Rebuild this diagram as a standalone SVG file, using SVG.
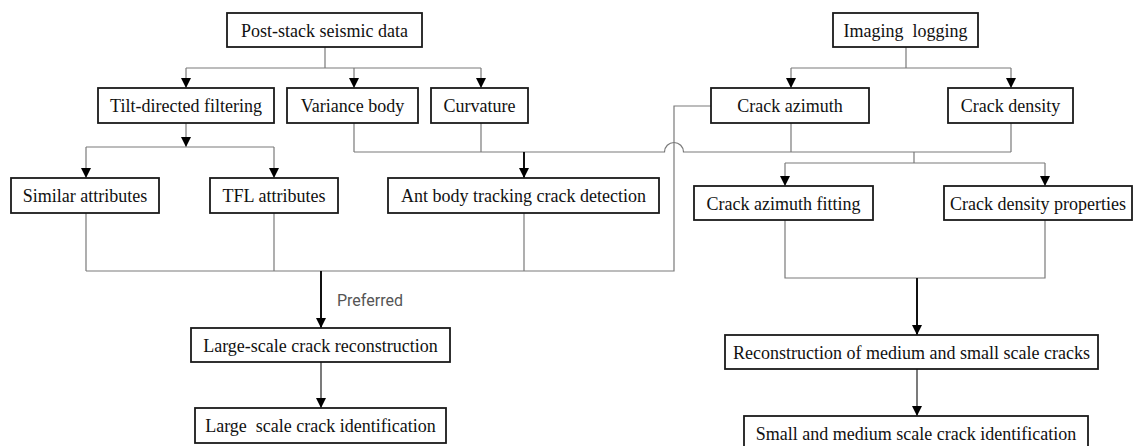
<svg xmlns="http://www.w3.org/2000/svg" width="1137" height="446" viewBox="0 0 1137 446">
<style>
.box{fill:#fff;stroke:#1a1a1a;stroke-width:1.8}
.t{font-family:"Liberation Serif","Times New Roman",serif;font-size:18px;fill:#111;text-anchor:middle}
.c{fill:none;stroke:#7a7a7a;stroke-width:1.2}
.ca{fill:none;stroke:#7a7a7a;stroke-width:1.2;marker-end:url(#ah)}
.k{fill:none;stroke:#111;stroke-width:2;marker-end:url(#ah)}
.kt{fill:none;stroke:#333;stroke-width:1.3;marker-end:url(#ah)}
.lbl{font-family:Roboto,"Noto Sans",sans-serif;font-size:16px;fill:#555}
</style>
<defs>
<marker id="ah" viewBox="0 0 10 10" refX="10" refY="5" markerWidth="10" markerHeight="10" markerUnits="userSpaceOnUse" orient="auto">
<path d="M0,0 L10,5 L0,10 z" fill="#000"/>
</marker>
</defs>
<rect width="1137" height="446" fill="#fff"/>
<g id="connectors">
<path class="c" d="M325,47 V68 M186,68 H481 M906,47 V68 M791,68 H1011"/>
<path class="ca" d="M186,68 V88"/>
<path class="ca" d="M354,68 V88"/>
<path class="ca" d="M481,68 V88"/>
<path class="ca" d="M791,68 V88"/>
<path class="ca" d="M1011,68 V88"/>
<path class="ca" d="M186,123 V147"/>
<path class="c" d="M86,147 H274"/>
<path class="ca" d="M86,147 V178"/>
<path class="ca" d="M274,147 V178"/>
<path class="c" d="M354,123 V152 M481,123 V152 M791,123 V152 M1011,123 V152"/>
<path class="c" d="M354,152 H664.5 A9.5,9.5 0 0 1 683.5,152 H1011"/>
<path class="k" d="M524,152 V178"/>
<path class="c" d="M914,152 V163 M785,163 H1045"/>
<path class="ca" d="M785,163 V186"/>
<path class="ca" d="M1045,163 V186"/>
<path class="c" d="M711,106 H674 V271 H86 M86,213 V271 M274,213 V271 M524,213 V271"/>
<path class="k" d="M321,271 V328"/>
<path class="c" d="M785,220 V278 H1045 V220"/>
<path class="k" d="M917,278 V335"/>
<path class="kt" d="M321,362 V408"/>
<path class="kt" d="M917,369 V416"/>
<text class="lbl" x="337" y="306">Preferred</text>
</g>
<g id="n-poststack"><rect class="box" x="227" y="13" width="195" height="34"/><text class="t" x="324.5" y="36.5">Post-stack seismic data</text></g>
<g id="n-imaging"><rect class="box" x="833" y="13" width="145" height="34"/><text class="t" x="905.5" y="36.5" xml:space="preserve">Imaging  logging</text></g>
<g id="n-tilt"><rect class="box" x="98" y="88" width="176" height="35"/><text class="t" x="186" y="112">Tilt-directed filtering</text></g>
<g id="n-variance"><rect class="box" x="287" y="88" width="131" height="35"/><text class="t" x="352.5" y="112">Variance body</text></g>
<g id="n-curvature"><rect class="box" x="431" y="88" width="97" height="35"/><text class="t" x="479.5" y="112">Curvature</text></g>
<g id="n-azimuth"><rect class="box" x="711" y="88" width="158" height="35"/><text class="t" x="790" y="112">Crack azimuth</text></g>
<g id="n-density"><rect class="box" x="948" y="88" width="125" height="35"/><text class="t" x="1010.5" y="112">Crack density</text></g>
<g id="n-similar"><rect class="box" x="11" y="178" width="148" height="35"/><text class="t" x="85" y="202">Similar attributes</text></g>
<g id="n-tfl"><rect class="box" x="210" y="178" width="128" height="35"/><text class="t" x="274" y="202">TFL attributes</text></g>
<g id="n-ant"><rect class="box" x="388" y="178" width="271" height="35"/><text class="t" x="523.5" y="202">Ant body tracking crack detection</text></g>
<g id="n-azfit"><rect class="box" x="694" y="186" width="179" height="34"/><text class="t" x="783.5" y="209.5">Crack azimuth fitting</text></g>
<g id="n-densprop"><rect class="box" x="944" y="186" width="188" height="34"/><text class="t" x="1038" y="209.5">Crack density properties</text></g>
<g id="n-largerecon"><rect class="box" x="191" y="328" width="259" height="34"/><text class="t" x="320.5" y="351.5">Large-scale crack reconstruction</text></g>
<g id="n-largeid"><rect class="box" x="195" y="408" width="251" height="35"/><text class="t" x="320.5" y="432" xml:space="preserve">Large  scale crack identification</text></g>
<g id="n-medrecon"><rect class="box" x="725" y="335" width="373" height="34"/><text class="t" x="911.5" y="358.5">Reconstruction of medium and small scale cracks</text></g>
<g id="n-smallid"><rect class="box" x="744" y="416" width="344" height="34"/><text class="t" x="916" y="439.5">Small and medium scale crack identification</text></g>
</svg>
